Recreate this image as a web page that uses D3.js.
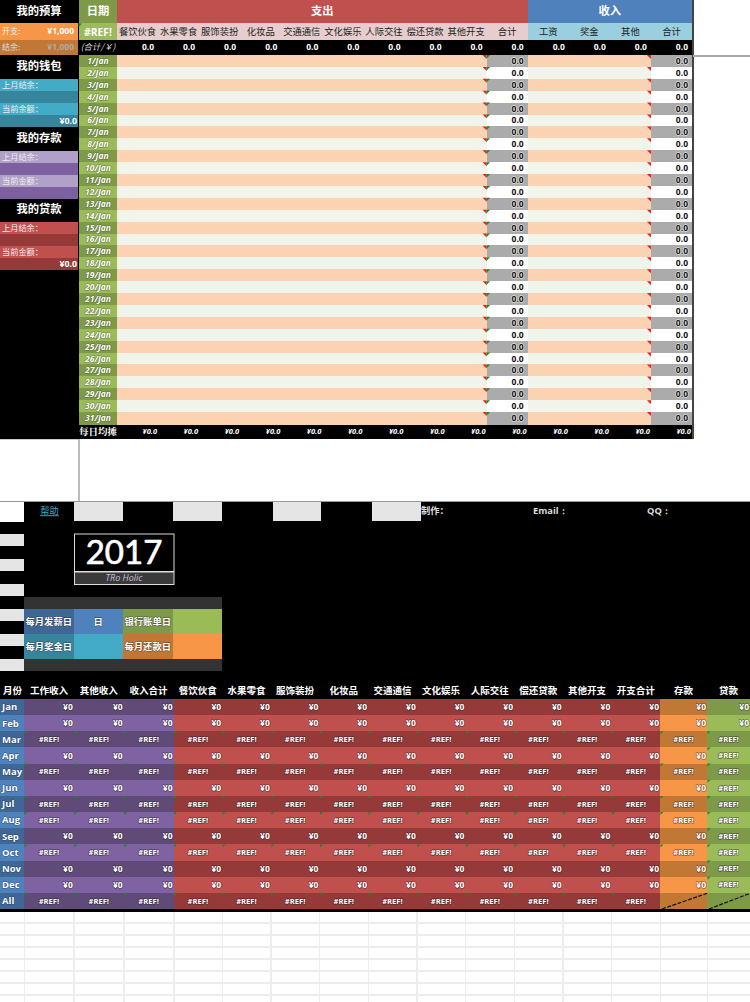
<!DOCTYPE html>
<html><head><meta charset="utf-8">
<script src="https://cdn.jsdelivr.net/npm/d3@7/dist/d3.min.js"></script>
<style>html,body{margin:0;padding:0;background:#fff}svg{display:block}text{font-family:"Noto Sans CJK SC","Noto Sans",sans-serif}</style>
</head><body><svg id="c" width="750" height="1002"></svg>
<script>
// ---- data ----
const expenseCols=["餐饮伙食","水果零食","服饰装扮","化妆品","交通通信","文化娱乐","人际交往","偿还贷款","其他开支","合计"];
const incomeCols=["工资","奖金","其他","合计"];
const dayLabels=d3.range(1,32).map(d=>d+"/Jan");
const dailyTotal="0.0";
const dailyAverage="¥0.0";
const budgetRows=[["开支:","¥1,000"],["结余:","¥1,000"]];
const walletRows=[["上月结余：",""],["",""],["当前余额：",""],["","¥0.0"]];
const savingRows=[["上月结余：",""],["",""],["当前金额：",""],["",""]];
const loanRows=[["上月结余：",""],["",""],["当前金额：",""],["","¥0.0"]];
const annualIncomeCols=["工作收入","其他收入","收入合计"];
const annualExpenseCols=["餐饮伙食","水果零食","服饰装扮","化妆品","交通通信","文化娱乐","人际交往","偿还贷款","其他开支","开支合计"];
const months=["Jan","Feb","Mar","Apr","May","Jun","Jul","Aug","Sep","Oct","Nov","Dec","All"];
const mainValues=["¥0","¥0","#REF!","¥0","#REF!","¥0","#REF!","#REF!","¥0","#REF!","¥0","¥0","#REF!"];
const savingValues=["¥0","¥0","#REF!","¥0","#REF!","¥0","#REF!","#REF!","¥0","#REF!","¥0","¥0",null];
const loanValues=["¥0","¥0","#REF!","#REF!","#REF!","#REF!","#REF!","#REF!","#REF!","#REF!","#REF!","#REF!",null];
const settingsLabels=[["每月发薪日","日","银行账单日",""],["每月奖金日","","每月还款日",""]];
const settingsFills=[["#3E6796","#4F81BD","#7E9A48","#9BBB59"],["#36859C","#44ABC6","#C27835","#F79646"]];
const yearLabel="2017", brandLabel="TRo Holic";

const svg=d3.select("#c");
function R(x,y,w,h,f,g){return (g||svg).append("rect").attr("x",x).attr("y",y).attr("width",w).attr("height",h).attr("fill",f).attr("shape-rendering","crispEdges");}
function T(x,y,s,o={}){
  const t=svg.append("text").attr("x",x).attr("y",y).attr("dy","0.35em").text(s)
   .attr("font-size",o.size||10).attr("font-weight",o.weight||"normal").attr("fill",o.fill||"#fff")
   .attr("text-anchor",o.anchor||"middle");
  if(o.italic)t.attr("font-style","italic");
  if(o.family)t.style("font-family",o.family);
  if(o.stroke){t.attr("stroke",o.stroke).attr("stroke-width",o.sw||1.6).attr("paint-order","stroke").attr("stroke-linejoin","round");}
  if(o.underline)t.attr("text-decoration","underline");
  return t;
}
const glow="rgba(40,30,40,.5)";
const latin='"Open Sans","Noto Sans",sans-serif';

// ---- upper sheet ----
const allCols=expenseCols.concat(incomeCols).map((d,i)=>i);
const xTop=d3.scaleBand().domain(allCols).range([117,692]);
const yDay=d3.scaleBand().domain(dayLabels).range([55,424]);
const peach="#FCD3B2", pale="#F0F4EA";
R(0,0,78.5,439,"#000");
R(78,40,614,15,"#000");
R(78,424,614,15,"#000");

// header
R(79,0,38,23,"#7E9A48");
R(117,0,xTop(10)-117,23,"#C0504D");
R(xTop(10),0,692-xTop(10),23,"#4F81BD");
T(98,11.5,"日期",{size:11.3,weight:"bold"});
T((117+xTop(10))/2,11.5,"支出",{size:11.3,weight:"bold"});
T((xTop(10)+692)/2,11.5,"收入",{size:11.3,weight:"bold"});
R(79,23,38,17,"#9BBB59");
T(98,32,"#REF!",{size:10.3,weight:"bold",family:latin});
svg.append("path").attr("d",d3.line()([[78.5,23.5],[82,23.5],[78.5,27]])).attr("fill","#1a8a2a");
expenseCols.forEach((c,i)=>{R(xTop(i),23,xTop.bandwidth()+.5,17,"#E7CDCD");T(xTop(i)+xTop.bandwidth()/2,31.5,c,{size:9.3,fill:"#222"});});
incomeCols.forEach((c,i)=>{const k=i+10;R(xTop(k),23,xTop.bandwidth()+.5,16.5,"#99CFDF");T(xTop(k)+xTop.bandwidth()/2,31.5,c,{size:9.3,fill:"#222"});});
T(98,47.5,"(合计/￥)",{size:8.5,italic:true,fill:"#ddd"});
allCols.forEach(k=>T(xTop(k)+xTop.bandwidth()-4,47.5,dailyTotal,{size:8.5,weight:"bold",anchor:"end",family:latin}));

// day rows
dayLabels.forEach((d,i)=>{
  const y=yDay(d),h=yDay.bandwidth(),odd=i%2==0;
  R(79,y,38,h+.5,odd?"#7E9A48":"#9BBB59");
  T(98,y+h/2,d,{size:8.5,weight:"bold",italic:true,stroke:"rgba(50,70,20,.5)",sw:1.1,family:latin});
  R(117,y,xTop(9)-117,h+.5,odd?peach:pale);
  R(xTop(10),y,xTop(13)-xTop(10),h+.5,odd?peach:pale);
  [9,13].forEach(k=>{
    R(xTop(k),y,xTop.bandwidth()+.5,h+.5,odd?"#ABABAB":"#fff");
    T(xTop(k)+xTop.bandwidth()-4,y+h/2,dailyTotal,{size:8.5,weight:"bold",fill:"#111",anchor:"end",family:latin,stroke:"rgba(255,255,255,.7)",sw:1.3});
    const ex=xTop(k);
    svg.append("path").attr("d",d3.line()([[ex-4,y],[ex,y],[ex,y+4]])).attr("fill","#ee1c18");
    if(k==9)svg.append("path").attr("d",d3.line()([[ex,y],[ex+3.5,y],[ex,y+3.5]])).attr("fill","#128a20");
  });
});
// footer
T(98,431.5,"每日均摊",{size:9.5,weight:"bold",family:'"Noto Serif CJK SC","Noto Sans CJK SC",serif'});
allCols.forEach(k=>T(xTop(k)+xTop.bandwidth()-1,431.5,dailyAverage,{size:7.5,weight:"bold",italic:true,anchor:"end",family:latin}));

// rules of the upper sheet
R(692,0,1.5,439,"#444");
R(693,55,57,1.5,"#aaa");
R(78,439,1.5,62,"#bbb");
R(0,439,78,1,"#ccc");

// left panel
function panel(title,y0,rows,lc,dc){
  T(39,y0+11.5,title,{size:11.3,weight:"bold"});
  const yp=d3.scaleBand().domain(d3.range(rows.length)).range([y0+24,y0+24+48]);
  rows.forEach((r,i)=>{
    R(0,yp(i),78,yp.bandwidth(),i%2?dc:lc);
    if(r[0])T(2,yp(i)+yp.bandwidth()/2,r[0],{size:8.2,anchor:"start",fill:"#eee"});
    if(r[1])T(77,yp(i)+yp.bandwidth()/2,r[1],{size:8.8,weight:"bold",anchor:"end",family:latin});
  });
}
T(39,11.5,"我的预算",{size:11.3,weight:"bold"});
budgetRows.forEach((r,i)=>{
  const y=i?40:23,h=i?15:17;
  R(0,y,78,h,i?"#C27835":"#F79646");
  T(2,y+h/2,r[0],{size:8,anchor:"start",fill:i?"#ddd":"#eee"});
  T(74,y+h/2,r[1],{size:8.5,weight:"bold",anchor:"end",fill:i?"#aaa":"#fff",family:latin});
});
panel("我的钱包",55,walletRows,"#44ABC6","#36859C");
panel("我的存款",127,savingRows,"#B1A0C7","#7C609F");
panel("我的贷款",198,loanRows,"#C0504D","#953A38");

// ---- lower sheet ----
R(0,502,750,408,"#000");
R(0,501,750,1,"#999");
R(0,502,24,19.5,"#fff");
const xNav=d3.scaleBand().domain(d3.range(14)).range([24,719]);
[1,3,5,7].forEach(k=>{R(xNav(k)+.5,502,xNav.bandwidth()-1,19,"#E5E5E5");});
T(49.5,511,"帮助",{size:9.3,fill:"#3FA8C8",underline:true});
T(421,511,"制作：",{size:9.3,weight:"bold",anchor:"start",fill:"#ddd"});
T(533,511,"Email：",{size:9.3,weight:"bold",anchor:"start",fill:"#ddd",family:latin});
T(647,511,"QQ：",{size:9.3,weight:"bold",anchor:"start",fill:"#ddd",family:latin});
const ySide=d3.scaleBand().domain(d3.range(6)).range([534,684]);
d3.range(6).forEach(k=>R(0,ySide(k),24,12,"#E5E5E5"));

// year box
svg.append("rect").attr("x",74.5).attr("y",534).attr("width",99.5).attr("height",37.5).attr("fill","#000").attr("stroke","#ddd").attr("stroke-width",1);
svg.append("rect").attr("x",74.5).attr("y",572).attr("width",99.5).attr("height",12.5).attr("fill","#3a3a3a").attr("stroke","#ddd").attr("stroke-width",1);
T(124,552,yearLabel,{size:33,weight:"normal",family:'Lato,"Open Sans",sans-serif',stroke:"#fff",sw:.7});
T(124,578,brandLabel,{size:9,italic:true,fill:"#c9c0dc",family:latin});

// settings block
const xSet=d3.scaleBand().domain(d3.range(4)).range([24,222]);
const ySet=d3.scaleBand().domain(d3.range(2)).range([609,659]);
R(24,597,198,12,"#333");R(24,659,198,12,"#333");
settingsLabels.forEach((row,j)=>row.forEach((s,i)=>{
  R(xSet(i),ySet(j),xSet.bandwidth()+.3,ySet.bandwidth()+.3,settingsFills[j][i]);
  if(s)T(xSet(i)+xSet.bandwidth()/2,ySet(j)+ySet.bandwidth()/2,s,{size:9.3,weight:"bold",stroke:glow,sw:1.1});
}));

// annual table
const yAnn=d3.scaleBand().domain(months).range([699,909]);
const xInc=d3.scaleBand().domain(annualIncomeCols).range([24,173.5]);
const xExp=d3.scaleBand().domain(annualExpenseCols).range([173.5,660]);
const hdr={size:9.5,weight:"bold"};
T(12.5,691,"月份",hdr);
annualIncomeCols.forEach(c=>T(xInc(c)+xInc.bandwidth()/2,691,c,hdr));
annualExpenseCols.forEach(c=>T(xExp(c)+xExp.bandwidth()/2,691,c,hdr));
T(683.5,691,"存款",hdr);T(728.5,691,"贷款",hdr);

function cell(x,w,y,h,val,fill){
  R(x,y,w+.4,h+.4,fill);
  if(val===null)return;
  if(val==="#REF!"){
    T(x+w/2,y+h/2,val,{size:7.6,weight:"bold",stroke:glow,sw:1.3,family:latin});
    svg.append("path").attr("d",d3.line()([[x+.5,y],[x+3.5,y],[x+.5,y+3]])).attr("fill","#168c22");
  }else{
    T(x+w-1,y+h/2,val,{size:8.5,weight:"bold",anchor:"end",stroke:glow,sw:1.3,family:latin});
  }
}
months.forEach((m,i)=>{
  const y=yAnn(m),h=yAnn.bandwidth(),odd=i%2==0;
  R(0,y,24,h+.4,odd?"#3E6796":"#4F81BD");
  T(2,y+h/2,m,{size:9.5,weight:"bold",anchor:"start",stroke:"rgba(20,40,70,.5)",sw:1.1,family:latin});
  annualIncomeCols.forEach(c=>cell(xInc(c),xInc.bandwidth(),y,h,mainValues[i],odd?"#604A78":"#7F62A1"));
  annualExpenseCols.forEach(c=>cell(xExp(c),xExp.bandwidth(),y,h,mainValues[i],odd?"#953A38":"#C0504D"));
  cell(660,47,y,h,savingValues[i],odd?"#C27835":"#F79646");
  cell(707,43,y,h,loanValues[i],odd?"#7E9A48":"#9BBB59");
  if(savingValues[i]===null){
    [[660,707],[707,750]].forEach(([a,b])=>svg.append("line").attr("x1",a+2).attr("y1",y+h).attr("x2",b).attr("y2",y+.5)
      .attr("stroke","#111").attr("stroke-width",1.2).attr("stroke-dasharray","4 1.5"));
  }
});
R(0,909,750,2.5,"#000");

// empty grid below
const gridY=d3.range(7).map(k=>k);
const yGrid=d3.scaleBand().domain(gridY).range([911,995]);
gridY.forEach(k=>R(0,yGrid(k)+yGrid.bandwidth()-1,750,1.5,"#EDEDED"));
const gridX=[24].concat(annualIncomeCols.map(c=>xInc(c)+xInc.bandwidth()),annualExpenseCols.map(c=>xExp(c)+xExp.bandwidth()),[707]);
gridX.forEach(x=>R(x-.5,912,1.5,90,"#EDEDED"));
</script></body></html>
